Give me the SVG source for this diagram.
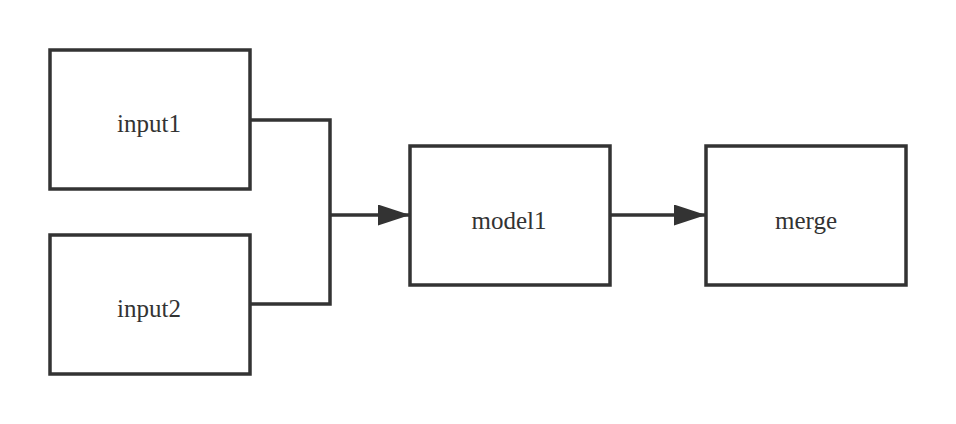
<svg xmlns="http://www.w3.org/2000/svg" width="956" height="424" viewBox="0 0 956 424">
<defs>
<style>
.box{fill:#fff;stroke:#333;stroke-width:3.5}
.lbl{font-family:"Liberation Serif","Times New Roman",serif;font-size:25px;fill:#333;text-anchor:middle}
.edge{fill:none;stroke:#333;stroke-width:3.5}
</style>
<marker id="arr" viewBox="0 0 32 21" refX="32" refY="10.5" markerWidth="32" markerHeight="21" markerUnits="userSpaceOnUse" orient="auto">
<path d="M0,0 L32,10.5 L0,21 Z" fill="#333"/>
</marker>
</defs>
<rect width="956" height="424" fill="#fff"/>
<g id="connectors">
<polyline class="edge" points="250,120 330,120 330,304 250,304"/>
<line class="edge" x1="330" y1="215" x2="410" y2="215" marker-end="url(#arr)"/>
<line class="edge" x1="610" y1="215" x2="706" y2="215" marker-end="url(#arr)"/>
</g>
<g id="input1">
<rect class="box" x="50" y="50" width="200" height="139"/>
<text class="lbl" x="149" y="132">input1</text>
</g>
<g id="input2">
<rect class="box" x="50" y="235" width="200" height="139"/>
<text class="lbl" x="149" y="317">input2</text>
</g>
<g id="model1">
<rect class="box" x="410" y="146" width="200" height="139"/>
<text class="lbl" x="509" y="228.5">model1</text>
</g>
<g id="merge">
<rect class="box" x="706" y="146" width="200" height="139"/>
<text class="lbl" x="806" y="228.5">merge</text>
</g>
</svg>
